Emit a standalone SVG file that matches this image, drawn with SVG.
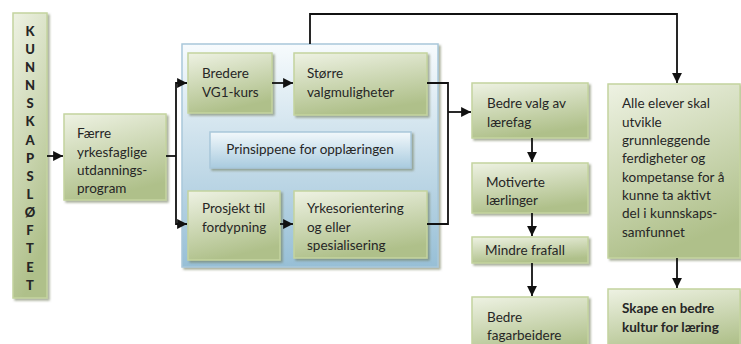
<svg xmlns="http://www.w3.org/2000/svg" width="741" height="344" viewBox="0 0 741 344">
<style>
text{font-family:Lato,"Open Sans","Liberation Sans",sans-serif;font-size:13.5px;fill:#262626}
.b{font-weight:bold}
.g{fill:url(#gg);stroke:#c4d49f;stroke-width:1.5;filter:url(#sh)}
.bl{fill:url(#bg);stroke:#a9c8da;stroke-width:1.5;filter:url(#sh)}
.c{fill:none;stroke:#111;stroke-width:1.8}
.k{font-weight:900;font-size:13px;text-anchor:middle}
</style>
<defs>
<linearGradient id="gg" x1="0" y1="0" x2="0.3" y2="1">
<stop offset="0" stop-color="#eef2e3"/><stop offset="1" stop-color="#afc08a"/>
</linearGradient>
<linearGradient id="bg" x1="0" y1="0" x2="0" y2="1">
<stop offset="0" stop-color="#f7fbfd"/><stop offset="1" stop-color="#97bfd6"/>
</linearGradient>
<linearGradient id="bg2" x1="0" y1="0" x2="0" y2="1">
<stop offset="0" stop-color="#f2f8fb"/><stop offset="1" stop-color="#a9cbdf"/>
</linearGradient>
<filter id="sh" x="-10%" y="-10%" width="130%" height="130%">
<feDropShadow dx="2" dy="2" stdDeviation="1" flood-color="#6f7a5a" flood-opacity="0.6"/>
</filter>
<marker id="a" viewBox="0 0 10 10" refX="10" refY="5" markerWidth="5.5" markerHeight="5.5" orient="auto" markerUnits="strokeWidth">
<path d="M0,0 L10,5 L0,10 z" fill="#111"/>
</marker>
</defs>

<g id="container">
<rect class="bl" x="182" y="44" width="256" height="223"/>
</g>

<g id="kunnskapsloftet">
<rect class="g" x="13" y="13" width="34" height="285"/>
<text class="k" x="30" y="36">K</text>
<text class="k" x="30" y="54">U</text>
<text class="k" x="30" y="72">N</text>
<text class="k" x="30" y="90">N</text>
<text class="k" x="30" y="108">S</text>
<text class="k" x="30" y="126">K</text>
<text class="k" x="30" y="145">A</text>
<text class="k" x="30" y="163">P</text>
<text class="k" x="30" y="181">S</text>
<text class="k" x="30" y="199">L</text>
<text class="k" x="30" y="217">Ø</text>
<text class="k" x="30" y="235">F</text>
<text class="k" x="30" y="253">T</text>
<text class="k" x="30" y="272">E</text>
<text class="k" x="30" y="290">T</text>
</g>

<g id="faerre">
<rect class="g" x="64" y="114" width="102" height="86"/>
<text x="77" y="138">Færre</text>
<text x="77" y="157">yrkesfaglige</text>
<text x="77" y="175">utdannings-</text>
<text x="77" y="193">program</text>
</g>

<g id="bredere">
<rect class="g" x="188" y="53" width="84" height="60"/>
<text x="202" y="78">Bredere</text>
<text x="202" y="97">VG1-kurs</text>
</g>

<g id="storre">
<rect class="g" x="294" y="53" width="133" height="62"/>
<text x="307" y="78">Større</text>
<text x="307" y="97">valgmuligheter</text>
</g>

<g id="prinsippene">
<rect class="bl" x="210" y="132" width="201" height="36" style="fill:url(#bg2)"/>
<text x="310" y="154" text-anchor="middle">Prinsippene for opplæringen</text>
</g>

<g id="prosjekt">
<rect class="g" x="188" y="191" width="92" height="69"/>
<text x="202" y="213">Prosjekt til</text>
<text x="202" y="232">fordypning</text>
</g>

<g id="yrkes">
<rect class="g" x="294" y="191" width="133" height="67"/>
<text x="307" y="213">Yrkesorientering</text>
<text x="307" y="232">og eller</text>
<text x="307" y="250">spesialisering</text>
</g>

<g id="bedrevalg">
<rect class="g" x="472" y="83" width="116" height="55"/>
<text x="487" y="108">Bedre valg av</text>
<text x="487" y="127">lærefag</text>
</g>

<g id="motiverte">
<rect class="g" x="472" y="163" width="116" height="50"/>
<text x="486" y="187">Motiverte</text>
<text x="486" y="205">lærlinger</text>
</g>

<g id="mindre">
<rect class="g" x="472" y="237" width="116" height="26"/>
<text x="485" y="255">Mindre frafall</text>
</g>

<g id="fagarbeidere">
<rect class="g" x="472" y="297" width="116" height="60"/>
<text x="487" y="322">Bedre</text>
<text x="487" y="340">fagarbeidere</text>
</g>

<g id="alle">
<rect class="g" x="608" y="84" width="132" height="174"/>
<text x="622" y="108">Alle elever skal</text>
<text x="622" y="127">utvikle</text>
<text x="622" y="145">grunnleggende</text>
<text x="622" y="163">ferdigheter og</text>
<text x="622" y="182">kompetanse for å</text>
<text x="622" y="200">kunne ta aktivt</text>
<text x="622" y="218">del i kunnskaps-</text>
<text x="622" y="237">samfunnet</text>
</g>

<g id="skape">
<rect class="g" x="608" y="289" width="132" height="68"/>
<text class="b" x="622" y="313">Skape en bedre</text>
<text class="b" x="622" y="332">kultur for læring</text>
</g>

<g id="connectors">
<line class="c" x1="47" y1="156" x2="63" y2="156" marker-end="url(#a)"/>
<polyline class="c" points="166,156 176,156"/>
<polyline class="c" points="187,83 176,83 176,224 187,224" marker-end="url(#a)"/>
<line class="c" x1="176" y1="83" x2="187" y2="83" marker-end="url(#a)"/>
<line class="c" x1="272" y1="83" x2="293" y2="83" marker-end="url(#a)"/>
<line class="c" x1="280" y1="224" x2="293" y2="224" marker-end="url(#a)"/>
<polyline class="c" points="427,83 448,83 448,224 427,224"/>
<line class="c" x1="448" y1="112" x2="471" y2="112" marker-end="url(#a)"/>
<polyline class="c" points="310,44 310,14 677,14 677,83" marker-end="url(#a)"/>
<line class="c" x1="532" y1="138" x2="532" y2="162" marker-end="url(#a)"/>
<line class="c" x1="532" y1="213" x2="532" y2="236" marker-end="url(#a)"/>
<line class="c" x1="532" y1="263" x2="532" y2="296" marker-end="url(#a)"/>
<line class="c" x1="677" y1="258" x2="677" y2="288" marker-end="url(#a)"/>
</g>
</svg>
